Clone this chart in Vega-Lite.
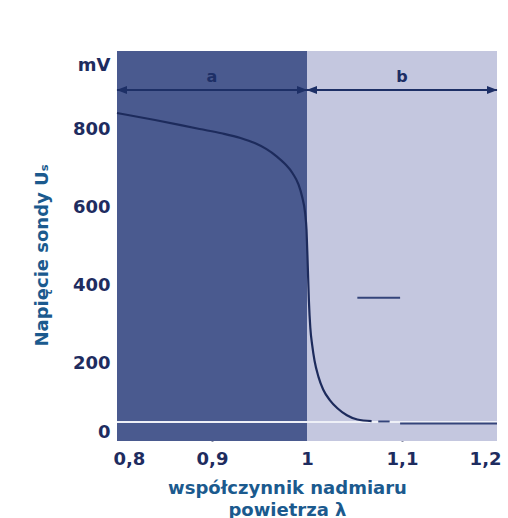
{
  "$schema": "https://vega.github.io/schema/vega-lite/v6.json",
  "autosize": {"type": "none"},
  "padding": {"left": 117, "top": 51, "right": 12, "bottom": 77},
  "width": 380,
  "height": 390,
  "background": "#ffffff",
  "config": {
    "view": {"stroke": null},
    "font": "DejaVu Sans",
    "axis": {
      "labelFont": "DejaVu Sans", "labelFontWeight": "bold", "labelFontSize": 18, "labelColor": "#1e2c5f",
      "titleFont": "DejaVu Sans", "titleFontWeight": "bold", "titleFontSize": 18, "titleColor": "#1b5a8e",
      "domain": false, "grid": false, "tickColor": "#141f48", "tickWidth": 2, "zindex": 1
    }
  },
  "resolve": {"scale": {"color": "independent", "shape": "independent"}},
  "datasets": {
    "regions": [
      {"from": 0.8, "to": 1.0, "region": "a"},
      {"from": 1.0, "to": 1.2, "region": "b"}
    ],
    "curve": [
      {"lambda": 0.800, "mV": 841},
      {"lambda": 0.840, "mV": 823},
      {"lambda": 0.887, "mV": 800},
      {"lambda": 0.910, "mV": 789},
      {"lambda": 0.930, "mV": 777},
      {"lambda": 0.945, "mV": 764},
      {"lambda": 0.957, "mV": 749},
      {"lambda": 0.968, "mV": 730},
      {"lambda": 0.977, "mV": 710},
      {"lambda": 0.985, "mV": 686},
      {"lambda": 0.991, "mV": 658},
      {"lambda": 0.995, "mV": 625},
      {"lambda": 0.998, "mV": 585},
      {"lambda": 0.9995, "mV": 541},
      {"lambda": 1.0008, "mV": 450},
      {"lambda": 1.002, "mV": 360},
      {"lambda": 1.0035, "mV": 290},
      {"lambda": 1.0055, "mV": 245},
      {"lambda": 1.008, "mV": 205},
      {"lambda": 1.012, "mV": 165},
      {"lambda": 1.017, "mV": 132},
      {"lambda": 1.024, "mV": 105},
      {"lambda": 1.032, "mV": 84},
      {"lambda": 1.042, "mV": 66},
      {"lambda": 1.053, "mV": 55},
      {"lambda": 1.068, "mV": 51}
    ],
    "lines": [
      {"from": 0.8, "to": 1.2, "mV": 49, "kind": "light"},
      {"from": 1.075, "to": 1.087, "mV": 50, "kind": "dark"},
      {"from": 1.098, "to": 1.2, "mV": 45, "kind": "dark"},
      {"from": 1.053, "to": 1.098, "mV": 367, "kind": "dark"}
    ],
    "arrows": [
      {"from": 0.8, "to": 1.0, "mV": 900, "label": "a", "mid": 0.9},
      {"from": 1.0, "to": 1.2, "mV": 900, "label": "b", "mid": 1.1}
    ],
    "heads": [
      {"lambda": 0.805, "mV": 900, "dir": "left"},
      {"lambda": 0.995, "mV": 900, "dir": "right"},
      {"lambda": 1.005, "mV": 900, "dir": "left"},
      {"lambda": 1.195, "mV": 900, "dir": "right"}
    ]
  },
  "encoding": {
    "x": {
      "type": "quantitative",
      "scale": {"domain": [0.8, 1.2], "nice": false, "zero": false},
      "axis": {
        "values": [0.8, 0.9, 1.0, 1.1, 1.2],
        "labelExpr": "replace(format(datum.value, '.1~f'), '.', ',')",
        "tickSize": -11,
        "tickOpacity": {"condition": {"test": "datum.value == 0.8 || datum.value == 1.2 || datum.value == 1", "value": 0}, "value": 1},
        "labelPadding": 20,
        "labelFlush": true,
        "labelFlushOffset": 4,
        "title": ["współczynnik nadmiaru", "powietrza λ"],
        "titleX": 170,
        "titleY": 52,
        "titleAlign": "center",
        "titleBaseline": "alphabetic",
        "titleLineHeight": 22
      }
    },
    "y": {
      "type": "quantitative",
      "scale": {"domain": [0, 1000], "nice": false},
      "axis": {
        "values": [0, 200, 400, 600, 800, 1000],
        "labelExpr": "datum.value == 1000 ? 'mV' : datum.label",
        "tickSize": -12,
        "tickOpacity": {"condition": {"test": "datum.value == 1000 || datum.value == 0", "value": 0}, "value": 1},
        "labelPadding": 19,
        "labelFlush": true,
        "labelOffset": {"condition": {"test": "datum.value == 1000", "value": 5}, "value": 0},
        "title": "Napięcie sondy Uₛ",
        "titleX": -75,
        "titleY": 204,
        "titleAngle": -90,
        "titleAlign": "center",
        "titleBaseline": "middle"
      }
    }
  },
  "layer": [
    {
      "data": {"name": "regions"},
      "mark": {"type": "rect"},
      "encoding": {
        "x": {"field": "from"},
        "x2": {"field": "to"},
        "y": {"datum": 0},
        "y2": {"datum": 1000},
        "color": {"field": "region", "type": "nominal", "scale": {"domain": ["a", "b"], "range": ["#4a5a8f", "#c4c7df"]}, "legend": null}
      }
    },
    {
      "data": {"name": "lines"},
      "mark": {"type": "rule", "strokeWidth": 2},
      "encoding": {
        "x": {"field": "from"},
        "x2": {"field": "to"},
        "y": {"field": "mV"},
        "color": {"field": "kind", "type": "nominal", "scale": {"domain": ["light", "dark"], "range": ["#eef0f7", "#34447a"]}, "legend": null}
      }
    },
    {
      "data": {"name": "curve"},
      "mark": {"type": "line", "color": "#1d2b5c", "strokeWidth": 2.2, "interpolate": "monotone"},
      "encoding": {
        "x": {"field": "lambda"},
        "y": {"field": "mV"},
        "order": {"field": "lambda"}
      }
    },
    {
      "data": {"name": "arrows"},
      "mark": {"type": "rule", "color": "#1d2f66", "strokeWidth": 2},
      "encoding": {
        "x": {"field": "from"},
        "x2": {"field": "to"},
        "y": {"field": "mV"}
      }
    },
    {
      "data": {"name": "arrows"},
      "mark": {"type": "text", "font": "DejaVu Sans", "fontWeight": "bold", "fontSize": 16, "color": "#1d2f66", "dy": -13},
      "encoding": {
        "x": {"field": "mid"},
        "y": {"field": "mV"},
        "text": {"field": "label"}
      }
    },
    {
      "data": {"name": "heads"},
      "mark": {"type": "point", "filled": true, "opacity": 1, "color": "#1d2f66", "size": 110},
      "encoding": {
        "x": {"field": "lambda"},
        "y": {"field": "mV"},
        "shape": {"field": "dir", "type": "nominal", "scale": {"domain": ["left", "right"], "range": ["M-1,0L1,-0.75L1,0.75Z", "M1,0L-1,-0.75L-1,0.75Z"]}, "legend": null}
      }
    }
  ]
}
